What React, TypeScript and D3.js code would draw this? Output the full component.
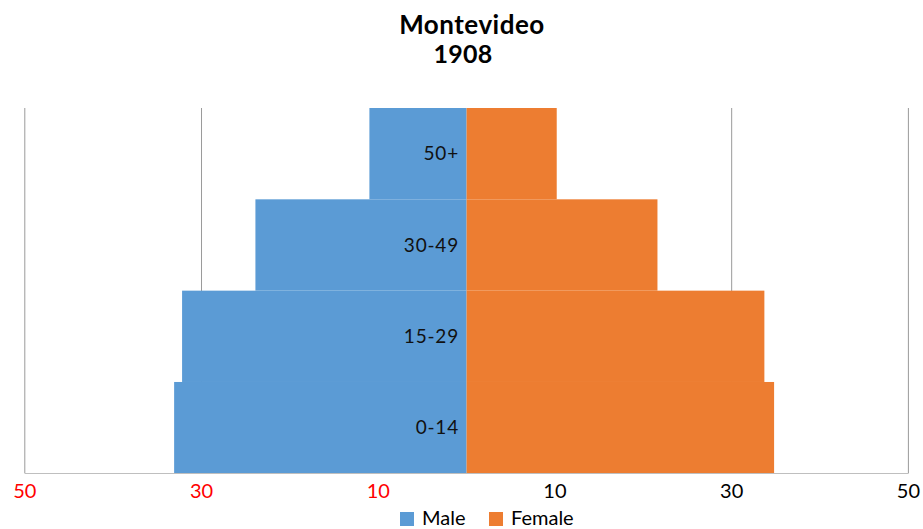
import React from "react";
import * as d3 from "d3";

const ageGroups = ["50+", "30-49", "15-29", "0-14"];
const maleValues = [11.0, 23.9, 32.2, 33.1];
const femaleValues = [10.2, 21.6, 33.7, 34.8];
const tickValues = [-50, -30, -10, 10, 30, 50];
const gridValues = [-50, -30, 30, 50];

const W = 923;
const H = 529;
const FONT = "Lato, 'Open Sans', sans-serif";

export default function App() {
  const x = d3.scaleLinear().domain([-50, 50]).range([24.8, 908.4]);
  const y = d3.scaleBand().domain(ageGroups).range([108, 473.3]).padding(0);

  return (
    <svg width={W} height={H} style={{ position: "absolute", left: 0, top: 0, background: "#fff" }}>
      <text x={472} y={34} textAnchor="middle" fontFamily={FONT} fontWeight="bold" fontSize={26} letterSpacing={0.5} fill="#000">
        Montevideo
      </text>
      <text x={463} y={63} textAnchor="middle" fontFamily={FONT} fontWeight="bold" fontSize={25} letterSpacing={0.3} fill="#000">
        1908
      </text>

      {gridValues.map((v) => (
        <line key={v} x1={x(v)} x2={x(v)} y1={108} y2={473.3} stroke="#9a9a9a" strokeWidth={1} />
      ))}

      {ageGroups.map((g, i) => (
        <rect key={"m" + g} x={x(-maleValues[i])} y={y(g)!} width={x(0) - x(-maleValues[i])} height={y.bandwidth()} fill="#5B9BD5" />
      ))}
      {ageGroups.map((g, i) => (
        <rect key={"f" + g} x={x(0)} y={y(g)!} width={x(femaleValues[i]) - x(0)} height={y.bandwidth()} fill="#ED7D31" />
      ))}

      <line x1={x(-50)} x2={x(50)} y1={473.5} y2={473.5} stroke="#bfbfbf" strokeWidth={1} />

      {ageGroups.map((g) => (
        <text key={"l" + g} x={459} y={y(g)! + y.bandwidth() / 2} dy="0.35em" textAnchor="end" fontFamily={FONT} fontSize={19} letterSpacing={0.8} fill="#111">
          {g}
        </text>
      ))}

      {tickValues.map((v) => (
        <text key={"t" + v} x={x(v)} y={498} textAnchor="middle" fontFamily={FONT} fontSize={20} fill={v < 0 ? "#ff0000" : "#000"}>
          {Math.abs(v)}
        </text>
      ))}

      <rect x={400} y={512} width={14} height={14} fill="#5B9BD5" />
      <text x={422} y={525} fontFamily={FONT} fontSize={20} fill="#000">Male</text>
      <rect x={489} y={512} width={14} height={14} fill="#ED7D31" />
      <text x={511} y={525} fontFamily={FONT} fontSize={20} fill="#000">Female</text>
    </svg>
  );
}
